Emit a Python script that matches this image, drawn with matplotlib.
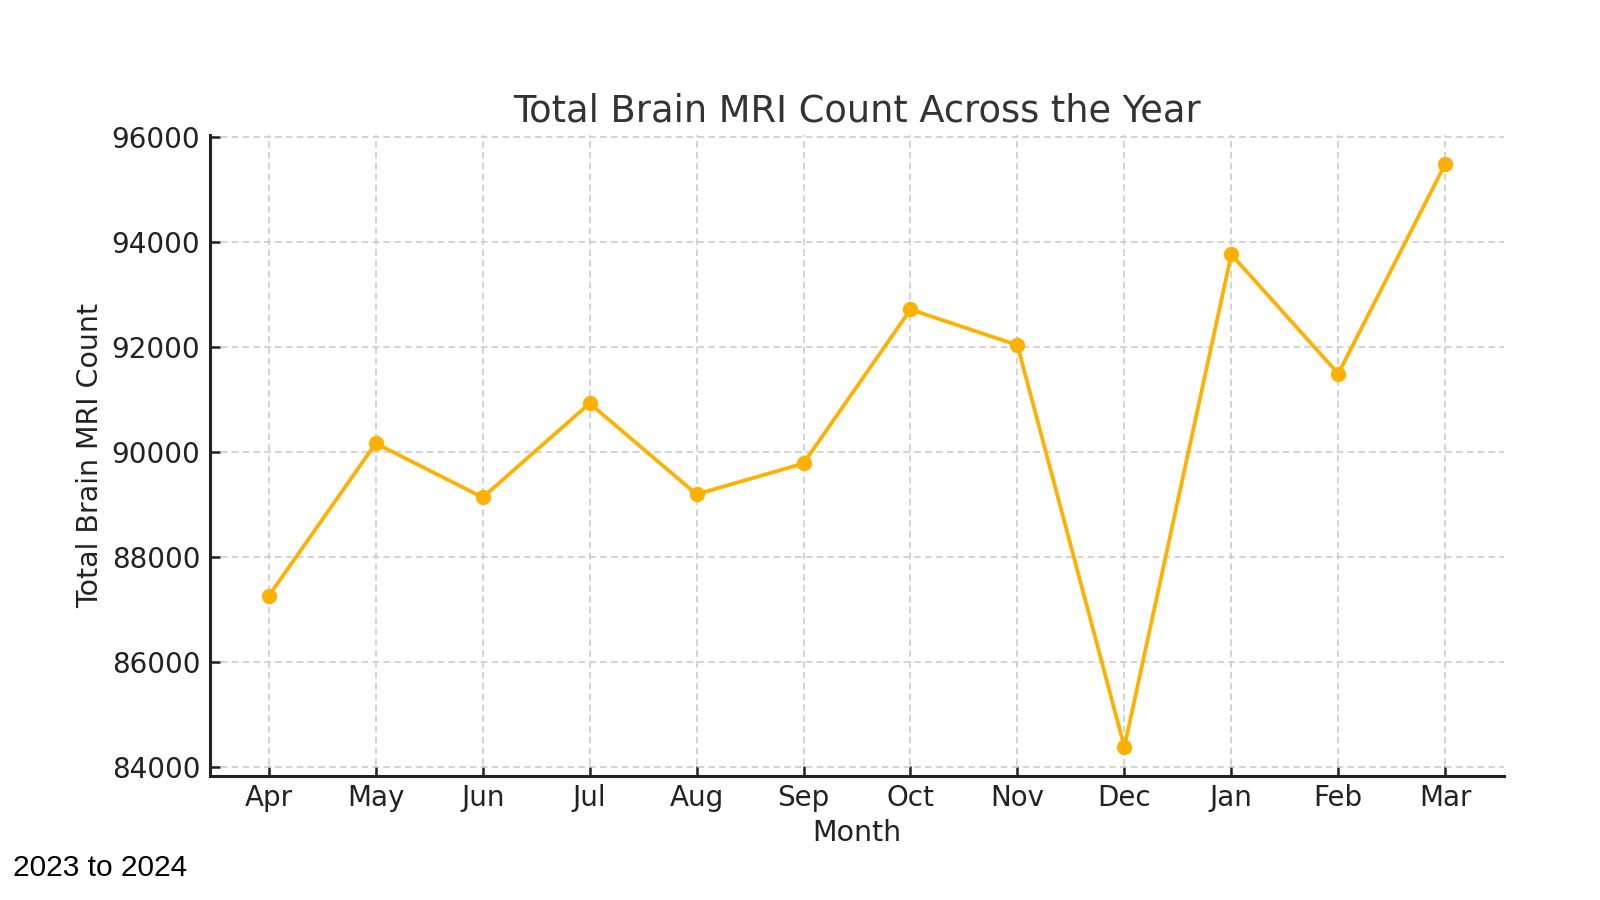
import matplotlib
matplotlib.use("Agg")
import matplotlib.pyplot as plt

# monthly totals, Apr 2023 - Mar 2024
months = ["Apr", "May", "Jun", "Jul", "Aug", "Sep", "Oct", "Nov", "Dec", "Jan", "Feb", "Mar"]
mri_counts = [87257, 90160, 89131, 90922, 89189, 89779, 92710, 92030, 84381, 93758, 91486, 95477]

fig = plt.figure(figsize=(16, 9), dpi=100)
ax = fig.add_axes([0.13125, 0.1378, 0.80875, 0.7122])

ax.plot(range(len(months)), mri_counts, color="#FFB000", linewidth=2.7,
        marker="o", markersize=10)

ax.set_xticks(range(len(months)))
ax.set_xticklabels(months)
ax.set_yticks([84000, 86000, 88000, 90000, 92000, 94000, 96000])

ax.grid(True, linestyle="--", color="#cccccc", linewidth=1.2, dashes=(4, 2.5))
ax.set_axisbelow(True)

for side in ["top", "right"]:
    ax.spines[side].set_visible(False)
for side in ["left", "bottom"]:
    ax.spines[side].set_linewidth(2.2)
    ax.spines[side].set_color("#222222")

ax.tick_params(direction="in", length=7, width=1.8, colors="#222222",
               labelsize=20)
ax.tick_params(axis="x", pad=6)
ax.tick_params(axis="y", pad=7)

ax.set_title("Total Brain MRI Count Across the Year", fontsize=26.5, color="#333333", pad=10)
ax.set_xlabel("Month", fontsize=20.5, color="#222222", labelpad=5)
ax.set_ylabel("Total Brain MRI Count", fontsize=20.5, color="#222222", labelpad=5)

fig.text(0.008, 0.027, "2023 to 2024", fontsize=21.5, family="Liberation Sans", color="black")

fig.savefig("out.png", dpi=100)
